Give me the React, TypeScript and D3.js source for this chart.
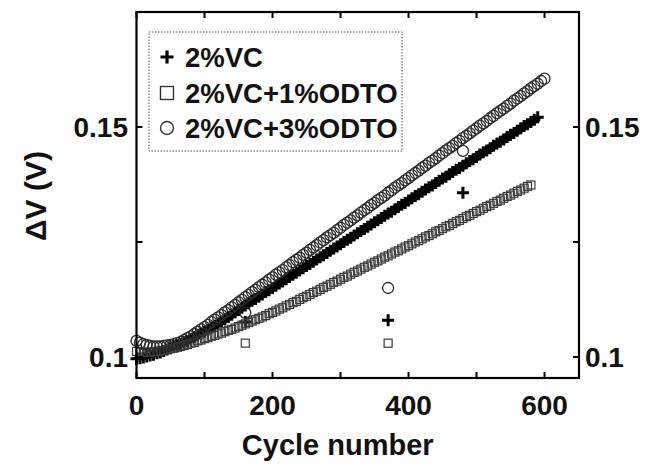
import React from "react";
import * as d3 from "d3";

// ---------- data ----------
const cyclesVC = d3.range(0, 595, 5);
const valuesVC = [
  0.0996, 0.0997, 0.0999, 0.1001, 0.1003, 0.1005, 0.1008, 0.1010, 0.1013, 0.1016,
  0.1019, 0.1022, 0.1025, 0.1028, 0.1032, 0.1035, 0.1039, 0.1043, 0.1047, 0.1051,
  0.1055, 0.1059, 0.1064, 0.1068, 0.1073, 0.1077, 0.1082, 0.1087, 0.1092, 0.1097,
  0.1102, 0.1107, 0.1112, 0.1117, 0.1122, 0.1126, 0.1131, 0.1136, 0.1141, 0.1145,
  0.1150, 0.1155, 0.1160, 0.1164, 0.1169, 0.1174, 0.1179, 0.1183, 0.1188, 0.1193,
  0.1198, 0.1202, 0.1207, 0.1212, 0.1217, 0.1221, 0.1226, 0.1231, 0.1236, 0.1240,
  0.1245, 0.1250, 0.1255, 0.1259, 0.1264, 0.1269, 0.1274, 0.1278, 0.1283, 0.1288,
  0.1293, 0.1297, 0.1302, 0.1307, 0.1312, 0.1316, 0.1321, 0.1326, 0.1331, 0.1335,
  0.1340, 0.1345, 0.1350, 0.1354, 0.1359, 0.1364, 0.1369, 0.1373, 0.1378, 0.1383,
  0.1388, 0.1392, 0.1397, 0.1402, 0.1407, 0.1411, 0.1416, 0.1421, 0.1426, 0.1430,
  0.1435, 0.1440, 0.1445, 0.1449, 0.1454, 0.1459, 0.1464, 0.1468, 0.1473, 0.1478,
  0.1483, 0.1487, 0.1492, 0.1497, 0.1502, 0.1506, 0.1511, 0.1516, 0.1521,
];

const cyclesODTO1 = d3.range(0, 585, 5);
const valuesODTO1 = [
  0.1012, 0.1011, 0.1010, 0.1010, 0.1010, 0.1011, 0.1012, 0.1013, 0.1014, 0.1016,
  0.1018, 0.1019, 0.1021, 0.1023, 0.1025, 0.1027, 0.1030, 0.1032, 0.1035, 0.1037,
  0.1040, 0.1042, 0.1045, 0.1047, 0.1050, 0.1052, 0.1055, 0.1058, 0.1060, 0.1063,
  0.1066, 0.1069, 0.1072, 0.1075, 0.1078, 0.1081, 0.1084, 0.1087, 0.1090, 0.1094,
  0.1097, 0.1100, 0.1104, 0.1107, 0.1111, 0.1114, 0.1118, 0.1121, 0.1125, 0.1129,
  0.1132, 0.1136, 0.1140, 0.1143, 0.1147, 0.1151, 0.1154, 0.1158, 0.1162, 0.1165,
  0.1169, 0.1173, 0.1176, 0.1180, 0.1184, 0.1187, 0.1191, 0.1195, 0.1198, 0.1202,
  0.1206, 0.1209, 0.1213, 0.1217, 0.1220, 0.1224, 0.1228, 0.1231, 0.1235, 0.1239,
  0.1242, 0.1246, 0.1250, 0.1253, 0.1257, 0.1261, 0.1264, 0.1268, 0.1272, 0.1275,
  0.1279, 0.1283, 0.1286, 0.1290, 0.1294, 0.1297, 0.1301, 0.1305, 0.1308, 0.1312,
  0.1316, 0.1319, 0.1323, 0.1327, 0.1330, 0.1334, 0.1338, 0.1341, 0.1345, 0.1349,
  0.1352, 0.1356, 0.1360, 0.1363, 0.1367, 0.1371, 0.1374,
];

const cyclesODTO3 = d3.range(0, 605, 5);
const valuesODTO3 = [
  0.1035, 0.1031, 0.1028, 0.1026, 0.1024, 0.1023, 0.1023, 0.1023, 0.1024, 0.1025,
  0.1026, 0.1028, 0.1030, 0.1033, 0.1037, 0.1041, 0.1045, 0.1050, 0.1055, 0.1060,
  0.1065, 0.1070, 0.1076, 0.1081, 0.1086, 0.1091, 0.1097, 0.1102, 0.1108, 0.1113,
  0.1119, 0.1124, 0.1130, 0.1135, 0.1141, 0.1146, 0.1152, 0.1157, 0.1162, 0.1168,
  0.1173, 0.1179, 0.1184, 0.1189, 0.1195, 0.1200, 0.1206, 0.1211, 0.1216, 0.1222,
  0.1227, 0.1233, 0.1238, 0.1243, 0.1249, 0.1254, 0.1260, 0.1265, 0.1270, 0.1276,
  0.1281, 0.1287, 0.1292, 0.1297, 0.1303, 0.1308, 0.1314, 0.1319, 0.1324, 0.1330,
  0.1335, 0.1341, 0.1346, 0.1351, 0.1357, 0.1362, 0.1368, 0.1373, 0.1378, 0.1384,
  0.1389, 0.1395, 0.1400, 0.1405, 0.1411, 0.1416, 0.1422, 0.1427, 0.1432, 0.1438,
  0.1443, 0.1449, 0.1454, 0.1459, 0.1465, 0.1470, 0.1476, 0.1481, 0.1486, 0.1492,
  0.1497, 0.1503, 0.1508, 0.1513, 0.1519, 0.1524, 0.1530, 0.1535, 0.1540, 0.1546,
  0.1551, 0.1557, 0.1562, 0.1567, 0.1573, 0.1578, 0.1584, 0.1589, 0.1594, 0.1600,
  0.1605,
];

// isolated points
const extraCyclesVC = [160, 370, 480];
const extraValuesVC = [0.1076, 0.108, 0.1357];
const extraCyclesODTO1 = [160, 370];
const extraValuesODTO1 = [0.103, 0.103];
const extraCyclesODTO3 = [160, 370, 480];
const extraValuesODTO3 = [0.1096, 0.115, 0.1448];

const legendLabels = ["2%VC", "2%VC+1%ODTO", "2%VC+3%ODTO"];
const xTickLabels = [0, 200, 400, 600];
const xMinorTicks = [0, 100, 200, 300, 400, 500, 600];
const yTickLabels = [0.1, 0.15];
const yMinorTicks = [0.1, 0.125, 0.15];

// ---------- layout ----------
const W = 659;
const H = 466;
const L = 136.5;
const R = 579;
const T = 12;
const B = 378;
const FONT = "'Liberation Sans', Arial, Helvetica, sans-serif";

export default function App() {
  const x = d3.scaleLinear().domain([0, 650.7]).range([L, R]);
  const y = d3.scaleLinear().domain([0.09543, 0.175]).range([B, T]);

  const zip = (cs: number[], vs: number[]) =>
    cs.map((c, i) => [c, vs[i]] as [number, number]).filter((d) => d[1] !== undefined);

  const vc = zip(cyclesVC, valuesVC).concat(zip(extraCyclesVC, extraValuesVC));
  const o1 = zip(cyclesODTO1, valuesODTO1).concat(zip(extraCyclesODTO1, extraValuesODTO1));
  const o3 = zip(cyclesODTO3, valuesODTO3).concat(zip(extraCyclesODTO3, extraValuesODTO3));

  const plusPath = (cx: number, cy: number, s: number) =>
    `M${cx - s},${cy}H${cx + s}M${cx},${cy - s}V${cy + s}`;

  const tickLen = 6;

  return (
    <svg
      width={W}
      height={H}
      style={{ position: "absolute", left: 0, top: 0, background: "#fff" }}
      fontFamily={FONT}
    >
      <rect x={0} y={0} width={W} height={H} fill="#fff" />

      {/* data: plus */}
      <path
        d={vc.map((d) => plusPath(x(d[0]), y(d[1]), 6)).join("")}
        stroke="#000"
        strokeWidth={3}
        fill="none"
      />
      {/* data: squares */}
      <g fill="none" stroke="#3a3a3a" strokeWidth={1.2}>
        {o1.map((d, i) => (
          <rect key={i} x={x(d[0]) - 4} y={y(d[1]) - 4} width={8} height={8} />
        ))}
      </g>
      {/* data: circles */}
      <g fill="none" stroke="#2a2a2a" strokeWidth={1.3}>
        {o3.map((d, i) => (
          <circle key={i} cx={x(d[0])} cy={y(d[1])} r={5.5} />
        ))}
      </g>

      {/* frame */}
      <rect x={L} y={T} width={R - L} height={B - T} fill="none" stroke="#000" strokeWidth={2.2} />

      {/* ticks */}
      <g stroke="#000" strokeWidth={2}>
        {xMinorTicks.map((t) => (
          <g key={t}>
            <line x1={x(t)} x2={x(t)} y1={B} y2={B - tickLen} />
            <line x1={x(t)} x2={x(t)} y1={T} y2={T + tickLen} />
          </g>
        ))}
        {yMinorTicks.map((t) => (
          <g key={t}>
            <line x1={L} x2={L + tickLen} y1={y(t)} y2={y(t)} />
            <line x1={R} x2={R - tickLen} y1={y(t)} y2={y(t)} />
          </g>
        ))}
      </g>

      {/* tick labels */}
      <g fontSize={28} fontWeight="bold" fill="#111">
        {xTickLabels.map((t) => (
          <text key={t} x={x(t)} y={415} textAnchor="middle">
            {t}
          </text>
        ))}
        {yTickLabels.map((t) => (
          <text key={"l" + t} x={128} y={y(t) + 10} textAnchor="end">
            {d3.format("~g")(t)}
          </text>
        ))}
        {yTickLabels.map((t) => (
          <text key={"r" + t} x={585} y={y(t) + 10} textAnchor="start">
            {d3.format("~g")(t)}
          </text>
        ))}
      </g>

      {/* axis titles */}
      <text x={(L + R) / 2 - 20} y={455} textAnchor="middle" fontSize={29} fontWeight="bold" fill="#111">
        Cycle number
      </text>
      <text
        transform={`translate(46,196) rotate(-90)`}
        textAnchor="middle"
        fontSize={30}
        fontWeight="bold"
        fill="#111"
      >
        ΔV (V)
      </text>

      {/* legend */}
      <rect x={149} y={32} width={253} height={119} fill="#fff" stroke="#555" strokeWidth={1} strokeDasharray="1.5,1.5" />
      <path d={plusPath(167, 57, 6.5)} stroke="#000" strokeWidth={3.2} />
      <rect x={160.5} y={86.5} width={13} height={13} fill="none" stroke="#333" strokeWidth={1.4} />
      <circle cx={167} cy={128} r={6.5} fill="none" stroke="#333" strokeWidth={1.4} />
      <g fontSize={27.5} fontWeight="bold" fill="#111">
        {legendLabels.map((l, i) => (
          <text key={l} x={185} y={[67, 103, 138][i]}>
            {l}
          </text>
        ))}
      </g>
    </svg>
  );
}
